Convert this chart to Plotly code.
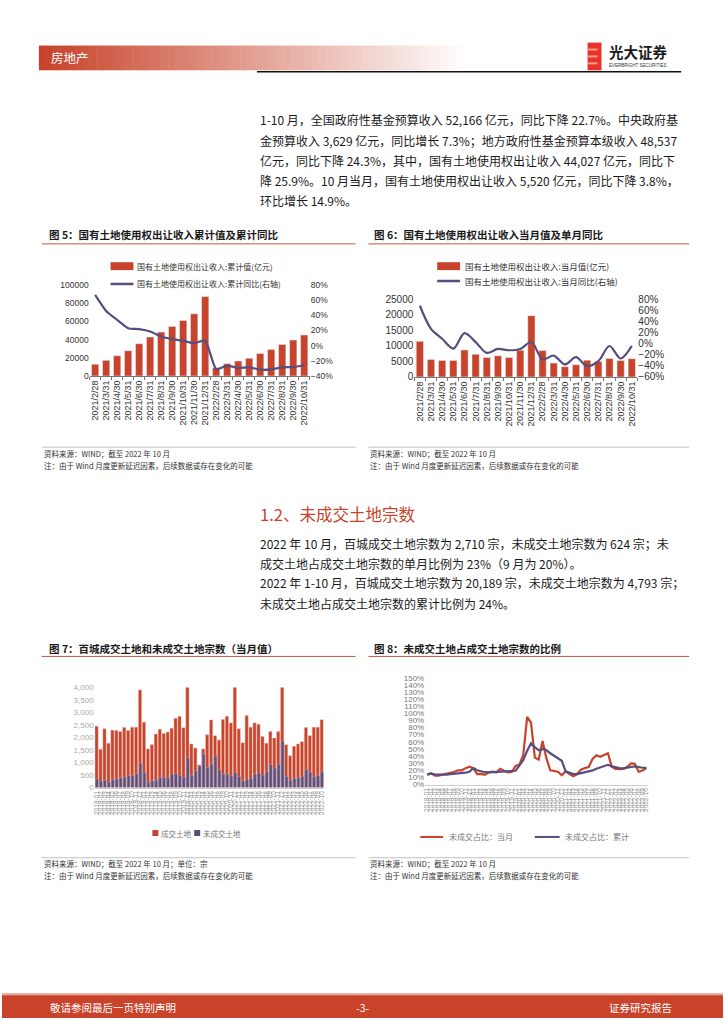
import plotly.graph_objects as go

W, H = 724, 1024
def X(p): return p / W
def Y(p): return 1 - p / H

CJK = "Noto Sans CJK SC"
LAT = "Liberation Sans, Arial"
RED = "#C8432B"
BLUE = "#554E7E"

# ---------------- data ----------------
c5_dates = ["2021/2/28", "2021/3/31", "2021/4/30", "2021/5/31", "2021/6/30", "2021/7/31",
            "2021/8/31", "2021/9/30", "2021/10/31", "2021/11/30", "2021/12/31", "2022/2/28",
            "2022/3/31", "2022/4/30", "2022/5/31", "2022/6/30", "2022/7/31", "2022/8/31",
            "2022/9/30", "2022/10/31"]
c5_cum = [12800, 17150, 22260, 27740, 35400, 42700, 48200, 54400, 60950, 68250, 87200,
          9100, 13500, 16400, 19340, 24800, 29200, 34700, 39400, 45000]
c5_yoy = [66.9, 45.8, 34.0, 23.0, 21.8, 18.7, 12.0, 8.6, 6.4, 3.4, 6.4,
          -30.8, -26.4, -29.5, -28.6, -31.7, -31.2, -28.6, -28.2, -25.9]

c6_dates = c5_dates
c6_month = [11490, 5640, 5320, 5320, 8720, 7340, 6280, 6810, 6280, 8620, 19790,
            8510, 4470, 3300, 3940, 5430, 5000, 5960, 5320, 5900]
c6_yoy = [68.7, 27.0, 9.0, -8.8, 19.2, 3.1, -16.5, -9.4, -11.7, -9.4, 3.1,
          -28.4, -21.3, -37.4, -24.3, -40.4, -31.4, -4.0, -26.6, -3.8]

c7_months = [f"{y}-{m:02d}" for y in range(2018, 2023) for m in range(1, 13)][:58]
c7_deal = [2455, 1531, 2350, 1769, 2297, 2284, 2244, 2402, 2284, 2416, 2416, 3907,
           2614, 1544, 1716, 2138, 2336, 2165, 2218, 2376, 2772, 2851, 2389, 4600,
           1742, 1584, 900, 1544, 2112, 2706, 2072, 1901, 2719, 2851, 2587, 4800,
           2350, 1795, 2878, 2416, 2587, 2534, 2046, 1769, 2244, 1980, 2244, 4500,
           1716, 1267, 1650, 1742, 1835, 2402, 2072, 2416, 2416, 2710]
c7_unsold = [343, 264, 290, 224, 317, 343, 383, 422, 475, 475, 554, 977,
             607, 224, 264, 290, 396, 396, 383, 541, 541, 475, 422, 1188,
             475, 673, 858, 1333, 805, 937, 1267, 700, 541, 541, 462, 594,
             436, 264, 330, 356, 541, 581, 502, 634, 924, 779, 924, 1861,
             436, 277, 356, 383, 449, 713, 607, 436, 475, 624]

c8_months = c7_months
c8_month = [14, 16, 12.5, 12.5, 14, 15, 17, 17.5, 20, 20, 23, 25,
            23, 14.5, 15, 13.5, 17, 18, 17, 22, 19.5, 17, 17.5, 26,
            28, 42, 95, 87, 38, 35, 61, 37, 20, 19, 18, 13,
            18.5, 14.7, 11.5, 14.7, 21, 23, 24.5, 36, 41, 39, 41, 44,
            25, 22, 21.5, 22, 24.5, 29.7, 29, 18, 19.6, 23]
c8_cum = [14, 15.2, 14.2, 13.8, 13.8, 14, 14.5, 14.9, 15.6, 16, 16.7, 17.9,
          23.2, 20, 18.6, 17.3, 17.2, 17.4, 17.4, 18.1, 18.3, 18.1, 18.1, 19.3,
          27, 34.5, 47.5, 57.9, 52.6, 48, 50.1, 48.4, 43.9, 40.4, 37.8, 33.4,
          18.5, 16.9, 14.7, 14.7, 16, 17.2, 18.1, 19.8, 22.2, 23.7, 25.2, 27.7,
          25.4, 23.9, 23.1, 22.8, 23.2, 24.6, 25.4, 24.2, 23.6, 23.5]

para1 = ["1-10 月，全国政府性基金预算收入 52,166 亿元，同比下降 22.7%。中央政府基",
         "金预算收入 3,629 亿元，同比增长 7.3%；地方政府性基金预算本级收入 48,537",
         "亿元，同比下降 24.3%，其中，国有土地使用权出让收入 44,027 亿元，同比下",
         "降 25.9%。10 月当月，国有土地使用权出让收入 5,520 亿元，同比下降 3.8%，",
         "环比增长 14.9%。"]
para2 = ["2022 年 10 月，百城成交土地宗数为 2,710 宗，未成交土地宗数为 624 宗；未",
         "成交土地占成交土地宗数的单月比例为 23%（9 月为 20%）。"]
para3 = ["2022 年 1-10 月，百城成交土地宗数为 20,189 宗，未成交土地宗数为 4,793 宗；",
         "未成交土地占成交土地宗数的累计比例为 24%。"]

# ---------------- figure ----------------
fig = go.Figure()

fig.add_trace(go.Bar(x=c5_dates, y=c5_cum, marker_color=RED, width=0.66,
                     name="国有土地使用权出让收入:累计值(亿元)", xaxis="x", yaxis="y", showlegend=False))
fig.add_trace(go.Scatter(x=c5_dates, y=c5_yoy, mode="lines", line=dict(color=BLUE, width=2.2, shape="spline", smoothing=0.6),
                         name="国有土地使用权出让收入:累计同比(右轴)", xaxis="x", yaxis="y2", showlegend=False))

fig.add_trace(go.Bar(x=c6_dates, y=c6_month, marker_color=RED, width=0.65,
                     name="国有土地使用权出让收入:当月值(亿元)", xaxis="x2", yaxis="y3", showlegend=False))
fig.add_trace(go.Scatter(x=c6_dates, y=c6_yoy, mode="lines", line=dict(color=BLUE, width=2.2, shape="spline", smoothing=0.9),
                         name="国有土地使用权出让收入:当月同比(右轴)", xaxis="x2", yaxis="y4", showlegend=False))

fig.add_trace(go.Bar(x=c7_months, y=c7_deal, marker=dict(color=RED, line=dict(color="#E9B3A6", width=0.5)), width=0.8,
                     name="成交土地", xaxis="x3", yaxis="y5", showlegend=False))
fig.add_trace(go.Bar(x=c7_months, y=c7_unsold, marker=dict(color=BLUE, line=dict(color="#A9A5C0", width=0.5)), width=0.7,
                     offset=-0.25, name="未成交土地", xaxis="x3", yaxis="y5", showlegend=False))

fig.add_trace(go.Scatter(x=c8_months, y=c8_month, mode="lines", line=dict(color=RED, width=2.2),
                         name="未成交占比：当月", xaxis="x4", yaxis="y6", showlegend=False))
fig.add_trace(go.Scatter(x=c8_months, y=c8_cum, mode="lines", line=dict(color=BLUE, width=2.2),
                         name="未成交占比：累计", xaxis="x4", yaxis="y6", showlegend=False))

tick_dark = dict(size=8.5, color="#333", family=LAT)
fig.update_layout(
    width=W, height=H, margin=dict(l=0, r=0, t=0, b=0),
    paper_bgcolor="white", plot_bgcolor="rgba(0,0,0,0)",
    barmode="overlay", showlegend=False,
    font=dict(family=CJK),
    xaxis=dict(domain=[X(88), X(309)], anchor="y", type="category", tickangle=-90,
               tickfont=dict(size=9, color="#333", family=LAT), showline=True, linecolor="#777",
               ticks="outside", ticklen=3, tickcolor="#777", tickson="boundaries",
               tickmode="array", tickvals=c5_dates),
    yaxis=dict(domain=[Y(375), Y(283)], anchor="x", range=[0, 100000], dtick=20000, tickformat="d",
               showgrid=False, zeroline=False, tickfont=tick_dark),
    yaxis2=dict(overlaying="y", anchor="x", side="right", range=[-40, 80], dtick=20, ticksuffix="%",
                showgrid=False, zeroline=False, tickfont=tick_dark),
    xaxis2=dict(domain=[X(414), X(638)], anchor="y3", type="category", tickangle=-90,
                tickfont=dict(size=9, color="#333", family=LAT), showline=True, linecolor="#777",
                ticks="outside", ticklen=3, tickcolor="#777", tickson="boundaries",
                tickmode="array", tickvals=c6_dates),
    yaxis3=dict(domain=[Y(376), Y(297.7)], anchor="x2", range=[0, 25000], dtick=5000, tickformat="d",
                showgrid=False, zeroline=False, tickfont=dict(size=10, color="#333", family=LAT)),
    yaxis4=dict(overlaying="y3", anchor="x2", side="right", range=[-60, 80], dtick=20, ticksuffix="%",
                showgrid=False, zeroline=False, tickfont=dict(size=10, color="#333", family=LAT)),
    xaxis3=dict(domain=[X(93), X(323)], anchor="y5", type="category", tickangle=-90,
                tickfont=dict(size=6.5, color="#999", family=LAT), showline=True, linecolor="#ccc",
                tickmode="array", tickvals=c7_months, range=[-0.5, 57.5]),
    yaxis5=dict(domain=[Y(791), Y(690)], anchor="x3", range=[0, 4000], dtick=500, tickformat=",",
                showgrid=False, zeroline=False, tickfont=dict(size=8, color="#aaa", family=LAT)),
    xaxis4=dict(domain=[X(425), X(649)], anchor="y6", type="category", tickangle=-90,
                tickfont=dict(size=6.5, color="#999", family=LAT), showline=True, linecolor="#ccc",
                tickmode="array", tickvals=c8_months, range=[-0.5, 57.5]),
    yaxis6=dict(domain=[Y(788), Y(680)], anchor="x4", range=[0, 150], dtick=10, ticksuffix="%",
                showgrid=False, zeroline=False, tickfont=dict(size=8, color="#777", family=LAT)),
)

shapes = []
annotations = []

def rect(x0, y0, x1, y1, color, line=None):
    shapes.append(dict(type="rect", xref="paper", yref="paper", x0=X(x0), x1=X(x1), y0=Y(y1), y1=Y(y0),
                       fillcolor=color, line=dict(width=0) if line is None else line, layer="below"))

def hline(x0, x1, y, color, width=1):
    shapes.append(dict(type="line", xref="paper", yref="paper", x0=X(x0), x1=X(x1), y0=Y(y), y1=Y(y),
                       line=dict(color=color, width=width)))

def txt(x, y, s, size, color="#222", bold=False, xanchor="left", family=CJK):
    annotations.append(dict(x=X(x), y=Y(y), xref="paper", yref="paper", text=(f"<b>{s}</b>" if bold else s),
                            showarrow=False, xanchor=xanchor, yanchor="middle",
                            font=dict(size=size, color=color, family=family)))

# header gradient band
n = 60
x_start, x_end = 37, 470
c0 = (200, 67, 42)
for i in range(n):
    t = i / (n - 1)
    r = int(c0[0] + (255 - c0[0]) * t)
    g = int(c0[1] + (255 - c0[1]) * t)
    b = int(c0[2] + (255 - c0[2]) * t)
    xa = x_start + (x_end - x_start) * i / n
    xb = x_start + (x_end - x_start) * (i + 1) / n + 0.5
    rect(xa, 41, xb, 66, f"rgb({r},{g},{b})")
txt(47, 53.5, "房地产", 12.5, color="white")
hline(256, 682, 67.5, "#111", 1.3)
# logo
rect(588, 38, 602, 66, "#E8322B")
rect(588, 44, 598, 46, "#F6A08A")
rect(588, 51, 598, 53, "#F6A08A")
rect(588, 58, 598, 60, "#F6A08A")
txt(608, 47, "光大证券", 14.5, color="#1a1a1a", bold=True)
txt(608, 61, "EVERBRIGHT SECURITIES", 4.5, color="#333", family=LAT)

# footer
rect(0, 999, 724, 1001, "#E8A08E")
rect(0, 1001, 724, 1024, "#C8432A")
txt(46, 1013, "敬请参阅最后一页特别声明", 10.5, color="white")
txt(362, 1013, "-3-", 10.5, color="white", xanchor="center")
txt(608, 1013, "证券研究报告", 10.5, color="white")

# paragraphs
for i, s in enumerate(para1):
    txt(257, 116 + i * 20.5, s, 12, color="#1a1a1a")
txt(257, 515, "1.2、未成交土地宗数", 16.5, color=RED)
for i, s in enumerate(para2):
    txt(257, 544 + i * 20.5, s, 12, color="#1a1a1a")
for i, s in enumerate(para3):
    txt(257, 584 + i * 20.5, s, 12, color="#1a1a1a")

# chart titles
txt(45, 232, "图 5：国有土地使用权出让收入累计值及累计同比", 10.5, color="#1a1a1a", bold=True)
txt(372, 232, "图 6：国有土地使用权出让收入当月值及单月同比", 10.5, color="#1a1a1a", bold=True)
txt(45, 650, "图 7：百城成交土地和未成交土地宗数（当月值）", 10.5, color="#1a1a1a", bold=True)
txt(372, 650, "图 8：未成交土地占成交土地宗数的比例", 10.5, color="#1a1a1a", bold=True)
for (a, b) in [(40, 355), (368, 690)]:
    hline(a, b, 241.5, "#C0583E", 1)
    hline(a, b, 658.5, "#C0583E", 1)
    hline(a, b, 447, "#999", 0.6)
    hline(a, b, 862, "#999", 0.6)

# sources
txt(40, 453, "资料来源：WIND；截至 2022 年 10 月", 7.5, color="#333")
txt(40, 465, "注：由于 Wind 月度更新延迟因素，后续数据或存在变化的可能", 7.5, color="#333")
txt(368, 453, "资料来源：WIND；截至 2022 年 10 月", 7.5, color="#333")
txt(368, 465, "注：由于 Wind 月度更新延迟因素，后续数据或存在变化的可能", 7.5, color="#333")
txt(40, 868, "资料来源：WIND；截至 2022 年 10 月；单位：宗", 7.5, color="#333")
txt(40, 880, "注：由于 Wind 月度更新延迟因素，后续数据或存在变化的可能", 7.5, color="#333")
txt(368, 868, "资料来源：WIND；截至 2022 年 10 月", 7.5, color="#333")
txt(368, 880, "注：由于 Wind 月度更新延迟因素，后续数据或存在变化的可能", 7.5, color="#333")

# legends (manual)
rect(109, 260, 132, 268, RED)
txt(134, 264, "国有土地使用权出让收入:累计值(亿元)", 8, color="#333")
hline(109, 132, 282, BLUE, 2.5)
txt(134, 282, "国有土地使用权出让收入:累计同比(右轴)", 8, color="#333")

rect(437, 260, 460, 268, RED)
txt(463, 264, "国有土地使用权出让收入:当月值(亿元)", 8.5, color="#333")
hline(437, 460, 279, BLUE, 2.5)
txt(463, 279, "国有土地使用权出让收入:当月同比(右轴)", 8.5, color="#333")

rect(151, 834, 157, 840, RED)
txt(158, 837, "成交土地", 7.5, color="#777")
rect(193, 834, 199, 840, BLUE)
txt(200, 837, "未成交土地", 7.5, color="#777")

hline(420, 443, 841, RED, 2)
txt(447, 841, "未成交占比：当月", 8, color="#777")
hline(535, 560, 841, BLUE, 2)
txt(563, 841, "未成交占比：累计", 8, color="#777")

fig.update_layout(shapes=shapes, annotations=annotations)
fig.write_html("out.html", config={"displayModeBar": False},
               post_script="document.body.style.margin='0px';document.body.style.padding='0px';")
